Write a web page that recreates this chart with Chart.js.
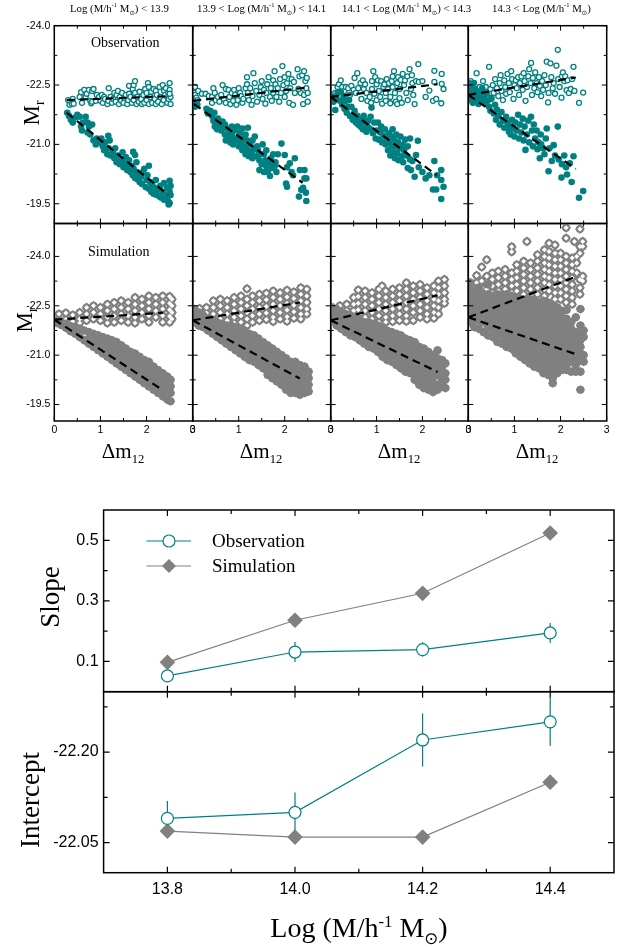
<!DOCTYPE html>
<html>
<head>
<meta charset="utf-8">
<title>Slope and intercept of the magnitude gap relation</title>
<script src="https://cdn.jsdelivr.net/npm/chart.js@4/dist/chart.umd.min.js"></script>
<style>
  html, body { margin: 0; padding: 0; background: #fff; }
  #page { position: relative; width: 625px; height: 947px; overflow: hidden; }
  #page canvas { position: absolute; left: 0; top: 0; }
  .t { position: absolute; white-space: nowrap; font-family: "Liberation Serif", serif; color: #000; line-height: 1; z-index: 5; }
  .t sup, .t sub { line-height: 0; font-size: 60%; }
  .rot { transform: translate(-50%, -50%) rotate(-90deg); }
  .mid { transform: translate(-50%, -50%); }
  .odot { font-family: "DejaVu Sans", sans-serif; }
  #legend { position: absolute; left: 146px; top: 528px; z-index: 5; }
</style>
</head>
<body>
<div id="page">
  <div class="t" style="left:70px;top:3px;font-size:10.8px">Log (M/h<sup>-1</sup> M<sub class="odot">⊙</sub>) &lt; 13.9</div>
  <div class="t" style="left:197px;top:3px;font-size:10.8px">13.9 &lt; Log (M/h<sup>-1</sup> M<sub class="odot">⊙</sub>) &lt; 14.1</div>
  <div class="t" style="left:342px;top:3px;font-size:10.8px">14.1 &lt; Log (M/h<sup>-1</sup> M<sub class="odot">⊙</sub>) &lt; 14.3</div>
  <div class="t" style="left:492px;top:3px;font-size:10.8px">14.3 &lt; Log (M/h<sup>-1</sup> M<sub class="odot">⊙</sub>)</div>
  <div class="t" style="left:91px;top:36px;font-size:14px">Observation</div>
  <div class="t" style="left:88px;top:245px;font-size:14px">Simulation</div>
  <div class="t rot" style="left:31px;top:113px;font-size:23px">M<sub>r</sub></div>
  <div class="t rot" style="left:24px;top:320px;font-size:23px">M<sub>r</sub></div>
  <div class="t mid" style="left:123px;top:451px;font-size:21px">Δm<sub>12</sub></div>
  <div class="t mid" style="left:261px;top:451px;font-size:21px">Δm<sub>12</sub></div>
  <div class="t mid" style="left:399px;top:451px;font-size:21px">Δm<sub>12</sub></div>
  <div class="t mid" style="left:537px;top:451px;font-size:21px">Δm<sub>12</sub></div>
  <div class="t rot" style="left:50px;top:597px;font-size:27px">Slope</div>
  <div class="t rot" style="left:30px;top:800px;font-size:27px">Intercept</div>
  <div class="t mid" style="left:359px;top:928px;font-size:28px">Log (M/h<sup>-1</sup> M<sub class="odot">⊙</sub>)</div>
  <svg id="legend" width="46" height="50">
    <line x1="0.5" y1="13" x2="45" y2="13" stroke="#008080" stroke-width="1.2"/>
    <circle cx="23" cy="13" r="6" fill="#fff" stroke="#008080" stroke-width="1.2"/>
    <line x1="0.5" y1="38" x2="45" y2="38" stroke="#808080" stroke-width="1.2"/>
    <polygon points="16,38 23,31 30,38 23,45" fill="#808080"/>
  </svg>
  <div class="t" style="left:212px;top:531px;font-size:19px">Observation</div>
  <div class="t" style="left:212px;top:556px;font-size:19px">Simulation</div>
</div>
<script>
const xTicksGap = [0, 1, 2, 3];
const xMinorGap = [0.5, 1.5, 2.5];
const yTicksMag = [-24, -22.5, -21, -19.5];
const yMinorMag = [-23.25, -21.75, -20.25];
const massTicks = [13.8, 14.0, 14.2, 14.4];
const massMinor = [13.9, 14.1, 14.3];
const slopeTicks = [0.1, 0.3, 0.5];
const slopeMinor = [0.2, 0.4];
const interceptTicks = [-22.2, -22.05];
const interceptMinor = [-22.275, -22.125];

// flat x,y lists
const obsOpen1 = [0.3,-22.12,0.33,-22.0,0.38,-22.02,0.4,-22.15,0.42,-22.03,0.55,-22.2,0.58,-22.32,0.6,-22.05,0.65,-22.38,0.68,-22.2,0.7,-22.28,0.75,-22.38,0.78,-22.1,0.8,-22.04,0.82,-22.35,0.85,-22.4,0.82,-22.08,0.9,-22.1,0.92,-22.25,0.97,-22.2,1.0,-22.1,1.03,-22.25,1.05,-22.05,1.08,-22.2,1.1,-22.15,1.15,-22.02,1.17,-22.1,1.18,-22.42,1.22,-22.2,1.25,-22.05,1.28,-22.15,1.3,-22.3,1.33,-22.08,1.35,-22.25,1.38,-22.35,1.4,-22.02,1.42,-22.2,1.45,-22.1,1.47,-22.3,1.5,-22.05,1.52,-22.18,1.55,-22.25,1.58,-22.02,1.6,-22.12,1.62,-22.28,1.62,-22.48,1.65,-22.2,1.68,-22.05,1.7,-22.4,1.72,-22.5,1.72,-22.12,1.75,-22.3,1.75,-22.6,1.78,-22.02,1.8,-22.2,1.83,-22.08,1.85,-22.33,1.88,-22.15,1.9,-22.02,1.93,-22.25,1.95,-22.05,1.97,-22.4,2.0,-22.12,2.0,-22.3,2.03,-22.55,2.05,-22.02,2.05,-22.45,2.08,-22.2,2.1,-22.33,2.12,-22.05,2.15,-22.4,2.18,-22.15,2.2,-22.02,2.2,-22.35,2.22,-22.25,2.25,-22.08,2.28,-22.45,2.3,-22.2,2.33,-22.02,2.35,-22.5,2.37,-22.12,2.38,-22.35,2.4,-22.25,2.42,-22.42,2.45,-22.05,2.47,-22.3,2.48,-22.15,2.5,-22.55,2.5,-22.38,2.52,-22.02,2.52,-22.2,2.5,-22.28];
const obsFill1 = [0.28,-21.8,0.32,-21.72,0.36,-21.62,0.4,-21.55,0.45,-21.68,0.5,-21.75,0.55,-21.7,0.58,-21.45,0.6,-21.35,0.62,-21.55,0.68,-21.7,0.72,-21.3,0.75,-21.45,0.78,-21.25,0.72,-21.55,0.82,-21.5,0.85,-21.1,0.9,-21.0,0.92,-21.15,0.98,-21.05,1.02,-21.15,1.05,-20.95,1.08,-20.85,1.1,-21.05,1.15,-20.75,1.17,-21.22,1.18,-20.9,1.2,-21.1,1.22,-20.72,1.27,-20.8,1.3,-20.65,1.32,-20.9,1.35,-20.55,1.38,-20.72,1.42,-20.5,1.45,-20.62,1.48,-20.8,1.5,-20.42,1.52,-20.55,1.55,-20.68,1.58,-20.35,1.6,-20.48,1.62,-20.6,1.65,-20.3,1.68,-20.45,1.7,-20.22,1.71,-20.81,1.72,-20.38,1.75,-20.73,1.75,-20.15,1.78,-20.3,1.78,-20.55,1.8,-20.12,1.82,-20.25,1.85,-20.05,1.88,-20.18,1.9,-20.0,1.92,-20.3,1.95,-20.38,1.98,-19.92,2.0,-20.1,2.02,-20.22,2.05,-20.46,2.05,-19.88,2.08,-20.05,2.1,-19.8,2.12,-19.98,2.15,-19.75,2.18,-19.9,2.2,-20.1,2.22,-19.72,2.25,-19.85,2.28,-19.68,2.3,-19.95,2.32,-19.65,2.35,-19.8,2.38,-20.02,2.38,-19.6,2.42,-19.72,2.45,-19.62,2.45,-19.9,2.47,-19.55,2.48,-19.48,2.5,-20.08,2.5,-19.8,2.52,-19.95,2.52,-19.72,2.5,-19.52];
const obsOpen2 = [0.03,-22.3,0.05,-22.45,0.05,-22.25,0.08,-22.18,0.1,-22.12,0.12,-22.35,0.2,-22.28,0.28,-22.28,0.35,-22.22,0.42,-22.2,0.42,-22.05,0.45,-22.42,0.48,-22.3,0.5,-22.12,0.55,-22.2,0.58,-22.08,0.62,-22.25,0.65,-22.5,0.68,-22.15,0.72,-22.05,0.72,-22.4,0.78,-22.38,0.8,-22.2,0.82,-22.02,0.85,-22.3,0.88,-22.1,0.9,-22.38,0.92,-22.25,0.95,-22.0,0.98,-22.12,1.0,-22.42,1.03,-22.3,1.05,-22.22,1.08,-22.05,1.1,-22.15,1.15,-22.42,1.18,-22.52,1.18,-22.7,1.2,-22.3,1.22,-22.12,1.25,-22.42,1.28,-22.0,1.3,-22.22,1.32,-22.8,1.35,-22.55,1.38,-22.35,1.4,-22.08,1.45,-22.25,1.48,-22.45,1.5,-22.6,1.52,-22.15,1.55,-22.38,1.58,-22.03,1.6,-22.3,1.62,-22.52,1.65,-22.7,1.68,-22.2,1.7,-22.42,1.72,-22.1,1.75,-22.62,1.75,-22.3,1.78,-22.85,1.8,-22.52,1.82,-22.2,1.85,-22.42,1.88,-22.08,1.9,-22.65,1.92,-22.3,1.95,-22.98,1.97,-22.5,2.0,-22.2,2.0,-22.7,2.03,-22.35,2.05,-22.55,2.08,-22.78,2.1,-22.05,2.12,-22.42,2.15,-22.65,2.18,-22.0,2.2,-22.58,2.22,-22.3,2.28,-22.9,2.35,-22.3,2.32,-22.72,2.3,-22.4,2.38,-22.75,2.4,-22.02,2.42,-22.25,2.42,-22.85,2.45,-22.6,2.47,-22.42,2.48,-22.68,2.5,-22.3,2.5,-22.08];
const obsFill2 = [0.03,-22.02,0.05,-21.95,0.1,-22.0,0.3,-21.9,0.33,-21.78,0.38,-21.85,0.42,-21.72,0.45,-21.6,0.47,-21.8,0.48,-21.45,0.5,-21.55,0.53,-21.38,0.55,-21.65,0.58,-21.45,0.6,-21.52,0.62,-21.35,0.65,-21.58,0.68,-21.42,0.7,-21.25,0.7,-21.5,0.72,-21.1,0.75,-21.4,0.78,-21.18,0.8,-21.3,0.82,-21.05,0.85,-21.45,0.85,-21.25,0.88,-21.0,0.9,-21.15,0.92,-21.35,0.95,-21.08,0.97,-21.45,1.0,-21.2,1.0,-20.95,1.03,-21.3,1.05,-21.05,1.08,-21.4,1.08,-20.85,1.1,-21.15,1.13,-20.95,1.15,-20.75,1.15,-21.25,1.18,-21.1,1.2,-20.85,1.2,-21.42,1.22,-20.7,1.25,-21.0,1.28,-20.8,1.3,-20.65,1.3,-21.1,1.33,-20.9,1.35,-21.2,1.38,-20.7,1.4,-20.95,1.42,-20.85,1.45,-20.35,1.45,-20.6,1.48,-20.75,1.5,-20.5,1.52,-21.0,1.55,-20.3,1.55,-20.75,1.58,-20.6,1.6,-20.45,1.6,-20.85,1.63,-20.3,1.65,-20.55,1.68,-20.2,1.7,-20.65,1.72,-20.4,1.75,-20.5,1.75,-20.75,1.78,-20.45,1.8,-20.55,1.82,-20.3,1.85,-20.75,1.93,-21.02,2.0,-20.73,2.05,-20.42,2.11,-20.52,2.15,-20.3,2.22,-20.65,2.03,-20.01,2.05,-19.93,2.18,-20.22,2.31,-19.68,2.33,-20.35,2.43,-20.35,2.43,-20.14,2.47,-20.14,2.4,-19.9,2.46,-19.78,2.47,-19.57,2.36,-19.85];
const obsOpen3 = [0.05,-22.25,0.1,-22.3,0.15,-22.45,0.18,-22.52,0.22,-22.62,0.25,-22.45,0.3,-22.35,0.33,-22.45,0.38,-22.42,0.42,-22.25,0.45,-22.48,0.5,-22.38,0.52,-22.68,0.55,-22.3,0.58,-22.8,0.6,-22.42,0.65,-22.55,0.67,-22.15,0.7,-22.62,0.72,-22.4,0.75,-22.52,0.78,-22.3,0.8,-22.1,0.85,-22.2,0.88,-22.05,0.9,-22.6,0.9,-22.4,0.93,-22.85,0.95,-22.28,0.97,-22.7,1.0,-22.52,1.0,-22.12,1.03,-22.62,1.05,-22.35,1.08,-22.2,1.1,-22.6,1.12,-22.03,1.15,-22.45,1.17,-22.52,1.2,-22.1,1.2,-22.3,1.22,-22.65,1.25,-22.4,1.27,-22.55,1.3,-22.04,1.3,-22.2,1.33,-22.6,1.35,-22.72,1.35,-22.45,1.38,-22.85,1.4,-22.3,1.42,-22.08,1.45,-22.55,1.45,-22.02,1.47,-22.7,1.5,-22.4,1.5,-22.17,1.53,-22.63,1.55,-22.05,1.57,-22.78,1.6,-22.5,1.62,-22.62,1.65,-22.3,1.67,-22.72,1.68,-22.12,1.72,-22.9,1.75,-22.4,1.77,-22.75,1.78,-22.55,1.8,-22.25,1.83,-22.02,1.86,-22.6,1.91,-23.03,1.92,-22.58,2.0,-22.6,2.07,-22.2,2.15,-22.36,2.23,-22.1,2.26,-22.58,2.26,-22.86,2.3,-22.15,2.42,-22.78,2.42,-22.53,2.46,-22.4,2.41,-22.04];
const obsFill3 = [0.03,-22.2,0.06,-22.08,0.1,-21.87,0.12,-22.2,0.15,-22.3,0.2,-22.1,0.22,-22.33,0.25,-22.0,0.28,-22.2,0.3,-21.9,0.33,-22.1,0.35,-21.8,0.38,-21.95,0.4,-22.12,0.42,-21.72,0.45,-21.95,0.48,-21.62,0.5,-21.75,0.52,-21.85,0.55,-21.55,0.58,-21.72,0.6,-21.5,0.62,-21.65,0.65,-21.45,0.68,-21.6,0.7,-21.38,0.72,-21.72,0.75,-21.55,0.78,-21.32,0.8,-21.45,0.82,-21.6,0.85,-21.4,0.87,-21.7,0.89,-21.93,0.92,-21.28,0.95,-21.55,0.98,-21.15,1.0,-21.35,1.03,-21.55,1.05,-21.12,1.08,-21.3,1.1,-21.45,1.12,-21.05,1.15,-21.22,1.18,-21.38,1.2,-21.0,1.22,-21.15,1.25,-20.85,1.27,-21.28,1.28,-21.05,1.3,-20.72,1.32,-21.2,1.33,-20.95,1.35,-21.38,1.37,-20.8,1.38,-21.12,1.4,-20.65,1.42,-20.95,1.43,-21.25,1.45,-20.78,1.47,-21.05,1.48,-20.6,1.5,-20.9,1.52,-21.2,1.55,-20.7,1.57,-20.98,1.58,-20.55,1.6,-20.85,1.62,-21.12,1.65,-20.72,1.68,-20.4,1.68,-20.95,1.73,-21.15,1.73,-20.62,1.75,-20.35,1.78,-20.58,1.83,-20.18,1.86,-20.73,1.9,-21.09,1.92,-20.42,2.0,-20.3,2.07,-20.14,2.15,-20.22,2.23,-19.86,2.26,-20.58,2.3,-19.86,2.32,-20.22,2.41,-20.35,2.41,-20.1,2.46,-19.93,2.41,-19.62];
const obsOpen4 = [0.03,-22.45,0.05,-22.6,0.08,-22.3,0.1,-22.12,0.12,-22.55,0.15,-22.4,0.18,-22.8,0.2,-22.25,0.22,-22.12,0.25,-22.45,0.28,-22.35,0.32,-22.6,0.35,-22.2,0.38,-22.45,0.4,-22.28,0.45,-22.96,0.48,-22.4,0.5,-22.15,0.53,-22.5,0.55,-22.3,0.58,-22.65,0.62,-22.42,0.65,-22.22,0.68,-22.55,0.7,-22.75,0.72,-22.35,0.75,-22.12,0.78,-22.62,0.8,-22.45,0.82,-22.28,0.85,-22.78,0.88,-22.55,0.9,-22.32,0.93,-22.85,0.95,-22.65,0.98,-22.15,1.0,-22.5,1.03,-22.62,1.05,-22.42,1.08,-22.7,1.1,-22.25,1.12,-22.55,1.15,-22.72,1.18,-22.38,1.2,-22.8,1.22,-22.6,1.24,-22.1,1.27,-22.45,1.3,-22.72,1.32,-22.9,1.35,-22.55,1.36,-23.06,1.38,-22.25,1.4,-22.68,1.43,-22.42,1.45,-22.82,1.48,-22.55,1.5,-22.32,1.53,-22.7,1.55,-22.48,1.58,-22.22,1.6,-22.6,1.62,-22.38,1.65,-22.75,1.68,-22.5,1.7,-23.09,1.73,-22.06,1.74,-22.3,1.78,-23.05,1.8,-22.7,1.83,-22.42,1.85,-22.55,1.88,-22.28,1.91,-22.99,1.94,-23.39,1.95,-22.65,1.98,-22.45,2.02,-22.18,2.03,-22.72,2.05,-22.82,2.08,-22.6,2.1,-22.72,2.13,-22.37,2.15,-22.62,2.18,-22.3,2.22,-22.4,2.25,-22.65,2.28,-22.96,2.3,-22.35,2.4,-22.05,2.49,-22.31];
const obsFill4 = [0.01,-22.55,0.03,-22.25,0.05,-22.12,0.06,-22.4,0.08,-22.3,0.1,-22.05,0.12,-22.55,0.13,-22.2,0.15,-22.38,0.18,-22.1,0.2,-22.25,0.22,-22.02,0.25,-22.3,0.28,-22.15,0.3,-22.42,0.33,-22.2,0.36,-22.05,0.38,-22.3,0.42,-22.1,0.45,-21.95,0.48,-21.85,0.5,-22.18,0.55,-21.78,0.58,-22.0,0.6,-21.62,0.62,-21.88,0.65,-21.72,0.68,-21.5,0.72,-21.82,0.75,-21.6,0.78,-21.42,0.82,-21.7,0.85,-21.55,0.88,-21.32,0.9,-21.45,0.92,-21.25,0.95,-21.62,0.98,-21.4,1.0,-21.2,1.02,-21.55,1.05,-21.35,1.08,-21.75,1.1,-21.15,1.12,-21.5,1.15,-21.3,1.18,-21.65,1.2,-21.1,1.22,-21.45,1.24,-20.86,1.27,-21.25,1.3,-21.6,1.32,-21.05,1.36,-21.7,1.38,-21.35,1.4,-20.95,1.42,-21.5,1.45,-21.15,1.48,-21.35,1.5,-20.88,1.52,-21.05,1.55,-20.65,1.57,-21.25,1.58,-21.0,1.62,-20.9,1.65,-20.75,1.68,-21.15,1.7,-21.4,1.74,-20.32,1.76,-20.9,1.81,-20.58,1.85,-20.98,1.88,-20.72,1.94,-21.45,1.96,-20.62,2.02,-20.16,2.03,-20.5,2.08,-20.72,2.12,-20.42,2.14,-20.24,2.2,-20.52,2.24,-20.05,2.28,-20.7,2.4,-19.65,2.49,-19.82];

// columns [x, y, y, ...], the clouds there are almost solid
const simOpen1 = [[0.1,-22.25,-22.05],[0.25,-22.28,-22.08],[0.4,-22.22,-22.02],[0.55,-22.3,-22.1,-21.98],[0.7,-22.45,-22.25,-22.05],[0.85,-22.5,-22.3,-22.1],[1.0,-22.45,-22.25,-22.05],[1.15,-22.55,-22.35,-22.15,-21.98],[1.3,-22.6,-22.4,-22.2,-22.0],[1.45,-22.65,-22.45,-22.25,-22.05],[1.6,-22.6,-22.4,-22.2,-22.0],[1.75,-22.75,-22.55,-22.35,-22.15,-21.98],[1.9,-22.7,-22.5,-22.3,-22.1],[2.05,-22.8,-22.6,-22.4,-22.2,-22.0],[2.2,-22.75,-22.55,-22.35,-22.15],[2.35,-22.8,-22.6,-22.4,-22.2,-22.0],[2.5,-22.78,-22.58,-22.38,-22.18,-22.0],[2.55,-22.7,-22.5,-22.3,-22.1]];
const simFill1 = [[0.05,-22.05,-21.98],[0.15,-22.0,-21.92],[0.25,-21.95,-21.83],[0.35,-21.88,-21.73],[0.45,-21.85,-21.65],[0.55,-21.8,-21.55],[0.65,-21.75,-21.45],[0.75,-21.7,-21.5,-21.35],[0.85,-21.65,-21.45,-21.25],[0.95,-21.6,-21.4,-21.15],[1.05,-21.55,-21.35,-21.2,-21.05],[1.15,-21.5,-21.3,-21.1,-20.95],[1.25,-21.45,-21.25,-21.05,-20.85],[1.35,-21.4,-21.2,-21.0,-20.75],[1.45,-21.3,-21.1,-20.9,-20.65],[1.55,-21.2,-21.0,-20.8,-20.55],[1.65,-21.1,-20.9,-20.7,-20.45],[1.75,-21.05,-20.85,-20.65,-20.5,-20.35],[1.85,-20.95,-20.75,-20.55,-20.4,-20.25],[1.95,-20.85,-20.65,-20.45,-20.3,-20.15],[2.05,-20.8,-20.6,-20.4,-20.2,-20.05],[2.15,-20.65,-20.45,-20.25,-20.1,-19.95],[2.25,-20.55,-20.35,-20.15,-20.0,-19.85],[2.35,-20.45,-20.25,-20.05,-19.9,-19.75],[2.45,-20.35,-20.15,-19.95,-19.8,-19.65],[2.52,-20.25,-20.05,-19.85,-19.6]];
const simOpen2 = [[0.15,-22.42,-22.25],[0.3,-22.45,-22.28,-22.15],[0.45,-22.65,-22.45,-22.25,-22.08],[0.6,-22.7,-22.5,-22.3,-22.1],[0.75,-22.65,-22.45,-22.25,-22.05],[0.9,-22.75,-22.55,-22.35,-22.15,-21.98],[1.05,-22.8,-22.6,-22.4,-22.2,-22.0],[1.18,-23.02,-22.7,-22.5,-22.3,-22.1,-21.9],[1.3,-22.8,-22.6,-22.4,-22.2,-22.0],[1.45,-22.85,-22.65,-22.45,-22.25,-22.05],[1.6,-22.88,-22.68,-22.48,-22.28,-22.08],[1.75,-22.95,-22.75,-22.55,-22.35,-22.15,-22.02],[1.9,-22.9,-22.7,-22.5,-22.3,-22.1],[2.05,-22.97,-22.77,-22.57,-22.37,-22.17,-22.03],[2.2,-22.92,-22.72,-22.52,-22.32,-22.12],[2.35,-23.05,-22.85,-22.65,-22.45,-22.25,-22.1],[2.48,-23.0,-22.8,-22.6,-22.4,-22.25]];
const simFill2 = [[0.03,-22.4,-22.2,-22.0],[0.13,-22.3,-22.1,-21.9],[0.23,-22.2,-22.0,-21.85],[0.33,-22.1,-21.9,-21.75],[0.43,-22.05,-21.85,-21.65],[0.53,-22.0,-21.8,-21.55],[0.63,-21.95,-21.75,-21.55,-21.45],[0.73,-21.9,-21.7,-21.5,-21.35],[0.83,-21.9,-21.7,-21.5,-21.25],[0.93,-21.85,-21.65,-21.45,-21.25,-21.15],[1.03,-21.8,-21.6,-21.4,-21.2,-21.05],[1.13,-21.75,-21.55,-21.35,-21.15,-20.95],[1.23,-21.65,-21.45,-21.25,-21.05,-20.85],[1.33,-21.6,-21.4,-21.2,-21.0,-20.8],[1.43,-21.5,-21.3,-21.1,-20.9,-20.7],[1.53,-21.4,-21.2,-21.0,-20.8,-20.6],[1.63,-21.3,-21.1,-20.9,-20.7,-20.5,-20.4],[1.73,-21.2,-21.0,-20.8,-20.6,-20.4,-20.3],[1.83,-21.1,-20.9,-20.7,-20.5,-20.3,-20.2],[1.93,-21.0,-20.8,-20.6,-20.4,-20.2,-20.1],[2.03,-20.9,-20.7,-20.5,-20.3,-20.1,-19.95],[2.13,-20.8,-20.6,-20.4,-20.2,-20.0,-19.85],[2.23,-20.8,-20.6,-20.4,-20.2,-20.0,-19.85],[2.33,-20.7,-20.5,-20.3,-20.1,-19.9,-19.8],[2.43,-20.65,-20.45,-20.25,-20.05,-19.85],[2.52,-20.5,-20.3,-20.1,-19.9]];
const simOpen3 = [[0.2,-22.5,-22.35],[0.35,-22.55,-22.35,-22.2],[0.5,-22.75,-22.55,-22.35,-22.15],[0.6,-22.98,-22.78,-22.58,-22.38],[0.75,-22.95,-22.75,-22.55,-22.35,-22.15],[0.9,-22.9,-22.7,-22.5,-22.3,-22.1],[1.05,-23.0,-22.8,-22.6,-22.4,-22.2,-22.0],[1.12,-23.1],[1.2,-22.95,-22.75,-22.55,-22.35,-22.15,-22.0],[1.35,-23.0,-22.8,-22.6,-22.4,-22.2,-22.02],[1.5,-23.05,-22.85,-22.65,-22.45,-22.25,-22.05],[1.65,-23.2,-23.0,-22.8,-22.6,-22.4,-22.2,-22.03],[1.8,-23.1,-22.9,-22.7,-22.5,-22.3,-22.05],[1.95,-23.15,-22.95,-22.75,-22.55,-22.35,-22.15],[2.1,-23.05,-22.85,-22.65,-22.45,-22.25,-22.1],[2.25,-23.1,-22.9,-22.7,-22.5,-22.3,-22.12],[2.35,-23.25,-23.05,-22.85,-22.65,-22.45,-22.25],[2.48,-23.3,-23.1,-22.9,-22.7,-22.58]];
const simFill3 = [[0.03,-22.45,-22.25,-22.05],[0.13,-22.4,-22.2,-22.0,-21.9],[0.23,-22.3,-22.1,-21.9,-21.8],[0.33,-22.25,-22.05,-21.85,-21.7],[0.43,-22.2,-22.0,-21.8,-21.6],[0.53,-22.15,-21.95,-21.75,-21.55],[0.63,-22.1,-21.9,-21.7,-21.5,-21.45],[0.73,-22.0,-21.8,-21.6,-21.4,-21.35],[0.83,-22.0,-21.8,-21.6,-21.4,-21.25],[0.93,-21.95,-21.75,-21.55,-21.35,-21.2],[1.03,-21.9,-21.7,-21.5,-21.3,-21.1],[1.13,-21.85,-21.65,-21.45,-21.25,-21.05,-20.95],[1.23,-21.75,-21.55,-21.35,-21.15,-20.95,-20.85],[1.33,-21.7,-21.5,-21.3,-21.1,-20.9,-20.8],[1.43,-21.65,-21.45,-21.25,-21.05,-20.85,-20.7],[1.53,-21.6,-21.4,-21.2,-21.0,-20.8,-20.6],[1.63,-21.5,-21.3,-21.1,-20.9,-20.7,-20.5],[1.73,-21.45,-21.25,-21.05,-20.85,-20.65,-20.45],[1.83,-21.4,-21.2,-21.0,-20.8,-20.6,-20.4,-20.25],[1.93,-21.25,-21.05,-20.85,-20.65,-20.45,-20.25,-20.1],[2.03,-21.2,-21.0,-20.8,-20.6,-20.4,-20.2,-20.0],[2.13,-21.1,-20.9,-20.7,-20.5,-20.3,-20.1,-19.95],[2.23,-21.0,-20.8,-20.6,-20.45,-20.3,-20.05,-19.88],[2.33,-21.15,-20.9,-20.7,-20.55,-20.4,-20.1,-19.95],[2.43,-20.85,-20.65,-20.45,-20.25,-20.05],[2.5,-20.75,-20.45,-20.25,-20.0]];
const simOpen4 = [[0.05,-23.2,-23.0],[0.18,-23.42,-23.2,-23.0,-22.8],[0.29,-23.68,-23.25,-23.05,-22.85],[0.4,-23.9,-23.4,-23.2,-23.0,-22.8],[0.52,-23.5,-23.3,-23.1,-22.9],[0.65,-23.55,-23.35,-23.15,-22.95],[0.8,-23.6,-23.4,-23.2,-23.0],[0.94,-24.29,-24.14,-23.5,-23.3,-23.1,-22.9],[1.05,-23.75,-23.55,-23.35,-23.15,-22.95],[1.2,-23.85,-23.65,-23.45,-23.25,-23.05,-22.85],[1.27,-24.45],[1.35,-23.8,-23.6,-23.4,-23.2,-23.0,-22.8],[1.5,-24.05,-23.85,-23.65,-23.45,-23.25,-23.05,-22.85],[1.65,-24.2,-24.0,-23.8,-23.6,-23.4,-23.2,-23.0,-22.8],[1.75,-24.4,-24.15,-23.95,-23.75,-23.55,-23.35,-23.15,-22.95],[1.88,-24.35,-24.1,-23.9,-23.7,-23.5,-23.3,-23.1,-22.9,-22.7],[2.0,-24.1,-23.9,-23.7,-23.5,-23.3,-23.1,-22.9,-22.7],[2.12,-24.87,-24.55,-24.0,-23.8,-23.6,-23.4,-23.2,-23.0,-22.8,-22.6],[2.25,-23.95,-23.75,-23.55,-23.35,-23.15,-22.95,-22.75,-22.55],[2.3,-24.45],[2.35,-24.0,-23.8,-23.5],[2.42,-24.83,-24.3,-24.1,-23.3,-23.05,-22.85],[2.48,-24.45,-24.3,-23.4,-23.25]];
const simFill4 = [[0.03,-23.2,-23.0,-22.8,-22.6,-22.4,-22.2,-22.0],[0.13,-22.9,-22.7,-22.5,-22.3,-22.1,-21.85],[0.23,-23.05,-22.85,-22.65,-22.45,-22.25,-22.05,-21.8],[0.33,-22.8,-22.6,-22.4,-22.2,-22.0,-21.7],[0.43,-23.15,-22.85,-22.65,-22.45,-22.25,-22.05,-21.85,-21.6],[0.53,-22.8,-22.6,-22.4,-22.2,-22.0,-21.8,-21.55],[0.63,-22.85,-22.65,-22.45,-22.25,-22.05,-21.85,-21.65,-21.4],[0.73,-22.8,-22.6,-22.4,-22.2,-22.0,-21.8,-21.6,-21.35],[0.83,-22.85,-22.65,-22.45,-22.25,-22.05,-21.85,-21.65,-21.45,-21.25],[0.93,-22.8,-22.6,-22.4,-22.2,-22.0,-21.8,-21.6,-21.4,-21.2],[1.03,-22.75,-22.55,-22.35,-22.15,-21.95,-21.75,-21.55,-21.35,-21.15,-21.05],[1.13,-22.7,-22.5,-22.3,-22.1,-21.9,-21.7,-21.5,-21.3,-21.1,-20.95],[1.23,-22.65,-22.45,-22.25,-22.05,-21.85,-21.65,-21.45,-21.25,-21.05,-20.85],[1.33,-22.7,-22.5,-22.3,-22.1,-21.9,-21.7,-21.5,-21.3,-21.1,-20.9,-20.75],[1.43,-22.65,-22.45,-22.25,-22.05,-21.85,-21.65,-21.45,-21.25,-21.05,-20.85,-20.65],[1.53,-22.6,-22.4,-22.2,-22.0,-21.8,-21.6,-21.4,-21.2,-21.0,-20.8,-20.6],[1.63,-22.65,-22.45,-22.25,-22.05,-21.85,-21.65,-21.45,-21.25,-21.05,-20.85,-20.65,-20.45],[1.73,-22.6,-22.4,-22.2,-22.0,-21.8,-21.6,-21.4,-21.2,-21.0,-20.8,-20.6,-20.4],[1.83,-22.5,-22.3,-22.1,-21.9,-21.7,-21.5,-21.3,-21.1,-20.9,-20.7,-20.5,-20.3,-20.15],[1.93,-22.45,-22.25,-22.05,-21.85,-21.65,-21.45,-21.25,-21.05,-20.85,-20.65,-20.45],[2.03,-22.35,-22.15,-21.95,-21.75,-21.55,-21.35,-21.15,-20.95,-20.75,-20.55],[2.13,-22.37,-22.1,-21.9,-21.7,-21.5,-21.3,-21.1,-20.9,-20.7,-20.55],[2.23,-22.0,-21.8,-21.6,-21.4,-21.2,-21.0,-20.8,-20.5],[2.33,-22.15,-21.7,-21.5,-21.3,-21.1,-20.9,-20.7,-20.5],[2.43,-22.4,-21.9,-21.65,-21.45,-21.25,-21.05,-20.85,-20.5,-19.95],[2.5,-21.75,-21.55,-21.0,-20.8]];

// fitted dashed lines, x0,y0,x1,y1
const fitObsUpper = [[0.27,-22.12,2.5,-22.22],[0.01,-22.1,2.43,-22.43],[0,-22.2,2.33,-22.52],[0,-22.25,2.33,-22.69]];
const fitObsLower = [[0.27,-21.8,2.47,-19.72],[0.03,-22.02,2.39,-20.03],[0,-22.2,2.31,-20.22],[0,-22.25,2.33,-20.38]];
const fitSimUpper = [[0,-22.08,2.36,-22.29],[0,-22.06,2.33,-22.6],[0,-22.06,2.33,-22.82],[0,-22.15,2.33,-23.38]];
const fitSimLower = [[0,-22.08,2.35,-19.94],[0,-22.06,2.33,-20.29],[0,-22.06,2.33,-20.49],[0,-22.15,2.33,-21.03]];

const massBins = [13.8, 14.0, 14.2, 14.4];
const slopeObs = [0.052, 0.131, 0.139, 0.194];
const slopeObsErr = [0.01, 0.033, 0.024, 0.033];
const slopeSim = [0.097, 0.236, 0.325, 0.524];
const interceptObs = [-22.09, -22.10, -22.22, -22.25];
const interceptObsErr = [0.029, 0.033, 0.044, 0.04];
const interceptSim = [-22.069, -22.059, -22.059, -22.15];

const TEAL = '#008080';
const GRAY = '#808080';
const page = document.getElementById('page');

function flatPoints(list) {
    const pts = [];
    for (let i = 0; i < list.length; i += 2) pts.push({ x: list[i], y: list[i + 1] });
    return pts;
}

function columnPoints(cols) {
    const pts = [];
    cols.forEach(function (col) {
        col.slice(1).forEach(function (y) { pts.push({ x: col[0], y: y }); });
    });
    return pts;
}

function fitLine(f) {
    return {
        data: [{ x: f[0], y: f[1] }, { x: f[2], y: f[3] }],
        showLine: true, pointRadius: 0, borderColor: '#000', borderWidth: 2.2, borderDash: [8, 5]
    };
}

const frameTicks = {
    id: 'frameTicks',
    afterDatasetsDraw: function (chart, args, o) {
        const c = chart.ctx, a = chart.chartArea, xs = chart.scales.x, ys = chart.scales.y;
        c.save();
        c.strokeStyle = '#000';
        c.lineWidth = o.tickWidth;
        function marks(vals, len) {
            c.beginPath();
            vals.forEach(function (v) {
                const px = xs.getPixelForValue(v);
                c.moveTo(px, a.bottom); c.lineTo(px, a.bottom - len);
                c.moveTo(px, a.top); c.lineTo(px, a.top + len);
            });
            c.stroke();
        }
        function ymarks(vals, len) {
            c.beginPath();
            vals.forEach(function (v) {
                const py = ys.getPixelForValue(v);
                c.moveTo(a.left, py); c.lineTo(a.left + len, py);
                c.moveTo(a.right, py); c.lineTo(a.right - len, py);
            });
            c.stroke();
        }
        marks(o.xMajor, o.major); marks(o.xMinor, o.minor);
        ymarks(o.yMajor, o.major); ymarks(o.yMinor, o.minor);
        c.lineWidth = o.frameWidth;
        c.strokeRect(a.left, a.top, a.right - a.left, a.bottom - a.top);
        c.restore();
    }
};

const errorBars = {
    id: 'errorBars',
    beforeDatasetsDraw: function (chart) {
        const c = chart.ctx;
        chart.data.datasets.forEach(function (ds) {
            if (!ds.errors) return;
            c.save();
            c.strokeStyle = ds.borderColor;
            c.lineWidth = 1.2;
            c.beginPath();
            ds.data.forEach(function (p, i) {
                const px = chart.scales.x.getPixelForValue(p.x);
                c.moveTo(px, chart.scales.y.getPixelForValue(p.y - ds.errors[i]));
                c.lineTo(px, chart.scales.y.getPixelForValue(p.y + ds.errors[i]));
            });
            c.stroke();
            c.restore();
        });
    }
};

function makeChart(box, xr, yr, ticks, datasets, fonts) {
    const cv = document.createElement('canvas');
    cv.width = 625; cv.height = 947;
    cv.style.width = '625px'; cv.style.height = '947px';
    page.appendChild(cv);
    return new Chart(cv.getContext('2d'), {
        type: 'scatter',
        data: { datasets: datasets },
        options: {
            responsive: false,
            animation: false,
            events: [],
            layout: { padding: { left: 0, top: box.t, right: 625 - box.r, bottom: 0 } },
            plugins: {
                legend: { display: false },
                tooltip: { enabled: false },
                frameTicks: {
                    xMajor: ticks.xMajor, xMinor: ticks.xMinor, yMajor: ticks.yMajor, yMinor: ticks.yMinor,
                    major: fonts.major, minor: fonts.minor, tickWidth: fonts.tickWidth, frameWidth: fonts.frameWidth
                }
            },
            scales: {
                x: {
                    type: 'linear', min: xr[0], max: xr[1],
                    grid: { display: false, drawTicks: false }, border: { display: false },
                    afterBuildTicks: function (s) { s.ticks = ticks.xMajor.map(function (v) { return { value: v }; }); },
                    // the boxes are sized so the plot area lands on the panel edges
                    afterFit: function (s) { s.height = 947 - box.b; },
                    ticks: {
                        display: ticks.xLabels, autoSkip: false, maxRotation: 0, padding: fonts.xPad, color: '#000',
                        font: { family: 'Liberation Sans', size: fonts.size },
                        callback: function (v) { return v.toFixed(fonts.xDec); }
                    }
                },
                y: {
                    type: 'linear', min: yr[0], max: yr[1], reverse: ticks.reverse,
                    grid: { display: false, drawTicks: false }, border: { display: false },
                    afterBuildTicks: function (s) { s.ticks = ticks.yMajor.map(function (v) { return { value: v }; }); },
                    afterFit: function (s) { s.width = box.l; },
                    ticks: {
                        display: ticks.yLabels, autoSkip: false, padding: fonts.yPad, color: '#000',
                        font: { family: 'Liberation Sans', size: fonts.size },
                        callback: function (v) { return v.toFixed(fonts.yDec); }
                    }
                }
            }
        },
        plugins: [frameTicks, errorBars]
    });
}

const panelEdges = [54.3, 192.7, 330.7, 468.3, 606.7];
const smallFonts = { size: 10.5, xPad: 3, yPad: 4, xDec: 0, yDec: 1, major: 5, minor: 3, tickWidth: 1, frameWidth: 1.5 };

const obsOpen = [obsOpen1, obsOpen2, obsOpen3, obsOpen4];
const obsFill = [obsFill1, obsFill2, obsFill3, obsFill4];
const simOpen = [simOpen1, simOpen2, simOpen3, simOpen4];
const simFill = [simFill1, simFill2, simFill3, simFill4];

// Chart.js paints the first dataset last, so the fits go first
for (let i = 0; i < 4; i++) {
    makeChart({ l: panelEdges[i], r: panelEdges[i + 1], t: 25.7, b: 223.5 }, [0, 3], [-24, -19],
        { xMajor: xTicksGap, xMinor: xMinorGap, yMajor: yTicksMag, yMinor: yMinorMag, xLabels: false, yLabels: i === 0, reverse: true },
        [
            fitLine(fitObsLower[i]),
            fitLine(fitObsUpper[i]),
            { data: flatPoints(obsFill[i]), pointRadius: 3.3, pointBorderWidth: 0, pointBackgroundColor: TEAL, pointBorderColor: TEAL },
            { data: flatPoints(obsOpen[i]), pointRadius: 2.5, pointBorderWidth: 1.3, pointBackgroundColor: '#fff', pointBorderColor: TEAL }
        ], smallFonts);
    makeChart({ l: panelEdges[i], r: panelEdges[i + 1], t: 223.5, b: 421 }, [0, 3], [-25, -19],
        { xMajor: xTicksGap, xMinor: xMinorGap, yMajor: yTicksMag, yMinor: yMinorMag, xLabels: true, yLabels: i === 0, reverse: true },
        [
            fitLine(fitSimLower[i]),
            fitLine(fitSimUpper[i]),
            { data: columnPoints(simFill[i]), pointStyle: 'rectRot', pointRadius: 4.6, pointBorderWidth: 0, pointBackgroundColor: GRAY },
            { data: columnPoints(simFill[i]), pointStyle: 'circle', pointRadius: 4.1, pointBorderWidth: 0, pointBackgroundColor: GRAY },
            { data: columnPoints(simOpen[i]), pointStyle: 'rectRot', pointRadius: 2.5, pointBorderWidth: 0, pointBackgroundColor: '#fff' },
            { data: columnPoints(simOpen[i]), pointStyle: 'rectRot', pointRadius: 5, pointBorderWidth: 0, pointBackgroundColor: GRAY },
            { data: columnPoints(simOpen[i]), pointStyle: 'circle', pointRadius: 4, pointBorderWidth: 0, pointBackgroundColor: GRAY }
        ], smallFonts);
}

const bigFonts = { size: 16, xPad: 7, yPad: 5, xDec: 1, yDec: 1, major: 6, minor: 4, tickWidth: 1.2, frameWidth: 1.5 };

function massSeries(values) {
    return values.map(function (v, i) { return { x: massBins[i], y: v }; });
}

function lineSeries(values, color, style, radius, errors) {
    return {
        data: massSeries(values), errors: errors, showLine: true,
        borderColor: color, borderWidth: 1.2,
        pointStyle: style, pointRadius: radius, pointBorderWidth: 1.2,
        pointBackgroundColor: style === 'circle' ? '#fff' : color, pointBorderColor: color
    };
}

makeChart({ l: 103.6, r: 614, t: 510, b: 691.7 }, [13.7, 14.5], [0, 0.6],
    { xMajor: massTicks, xMinor: massMinor, yMajor: slopeTicks, yMinor: slopeMinor, xLabels: false, yLabels: true, reverse: false },
    [lineSeries(slopeObs, TEAL, 'circle', 6, slopeObsErr), lineSeries(slopeSim, GRAY, 'rectRot', 7)], bigFonts);

makeChart({ l: 103.6, r: 614, t: 691.7, b: 872.7 }, [13.7, 14.5], [-22.3, -22.0],
    { xMajor: massTicks, xMinor: massMinor, yMajor: interceptTicks, yMinor: interceptMinor, xLabels: true, yLabels: true, reverse: true },
    [lineSeries(interceptObs, TEAL, 'circle', 6, interceptObsErr), lineSeries(interceptSim, GRAY, 'rectRot', 7)],
    Object.assign({}, bigFonts, { yDec: 2 }));
</script>
</body>
</html>
